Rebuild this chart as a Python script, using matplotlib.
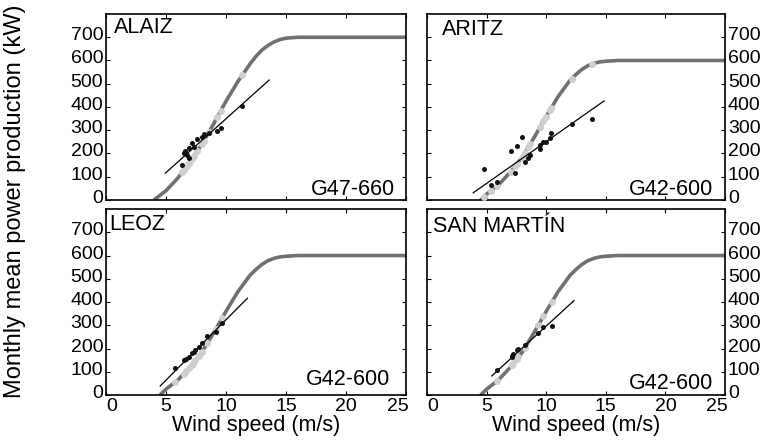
import matplotlib
matplotlib.use("Agg")
import matplotlib.pyplot as plt
import matplotlib.transforms as mtransforms

plt.rcParams['font.family'] = ['Liberation Sans', 'DejaVu Sans']

# ---- Manufacturer power curves (wind speed m/s -> kW) ----
g47_wind = [4, 5, 6, 7, 8, 9, 10, 11, 12, 12.5, 13, 13.5, 14, 14.5, 15, 16, 17, 25]
g47_power = [0, 40, 95, 165, 240, 330, 425, 510, 585, 618, 645, 665, 680, 690, 696, 700, 700, 700]

g42_wind = [4.5, 5, 6, 7, 8, 9, 10, 11, 12, 12.5, 13, 13.5, 14, 14.5, 15, 16, 17, 25]
g42_power = [0, 25, 65, 120, 185, 270, 360, 445, 515, 540, 562, 578, 588, 594, 597, 600, 600, 600]

# ---- Monthly observations per wind farm ----
alaiz_wind = [11.36, 9.55, 9.27, 8.57, 8.15, 8.0, 7.59, 7.17, 7.31, 6.9, 6.62, 6.48, 6.76, 6.9, 6.34]
alaiz_obs = [404, 308, 298, 289, 282, 272, 261, 244, 229, 222, 212, 201, 194, 179, 151]
alaiz_theo = [537, 382, 356, 291, 254, 240, 209, 178, 188, 158, 138, 129, 148, 158, 119]
alaiz_fit_x = [4.94, 13.6]
alaiz_fit_y = [115, 516]

aritz_wind = [4.78, 5.34, 5.85, 7.38, 7.02, 7.52, 7.94, 8.22, 8.5, 8.64, 9.48, 9.48,
              9.76, 9.98, 10.32, 10.4, 12.14, 13.82]
aritz_obs = [133, 65, 76, 118, 212, 234, 271, 165, 179, 194, 218, 237,
             248, 251, 265, 290, 326, 348]
aritz_theo = [14, 39, 59, 145, 121, 154, 181, 204, 228, 239, 313, 313,
              338, 358, 387, 394, 522, 584]
aritz_fit_x = [3.88, 14.85]
aritz_fit_y = [31, 426]

leoz_wind = [5.78, 6.48, 6.7, 6.9, 7.17, 7.3, 7.45, 7.73, 8.01, 8.43, 9.13, 9.7]
leoz_obs = [115, 151, 155, 165, 179, 185, 194, 208, 222, 254, 272, 308]
leoz_theo = [56, 91, 104, 115, 131, 140, 149, 167, 186, 222, 282, 333]
leoz_fit_x = [4.52, 11.78]
leoz_fit_y = [39, 416]

sanmartin_wind = [5.85, 7.1, 7.17, 7.24, 7.52, 7.66, 8.22, 9.34, 9.76, 10.5]
sanmartin_obs = [108, 165, 168, 176, 194, 200, 215, 265, 294, 298]
sanmartin_theo = [59, 127, 131, 136, 154, 163, 204, 301, 338, 402]
sanmartin_fit_x = [5.43, 12.33]
sanmartin_fit_y = [82, 406]

sites = ['ALAIZ', 'ARITZ', 'LEOZ', 'SAN MARTÍN']
models = ['G47-660', 'G42-600', 'G42-600', 'G42-600']
y_ticks = [0, 100, 200, 300, 400, 500, 600, 700]
x_ticks = [0, 5, 10, 15, 20, 25]

panels = [
    (g47_wind, g47_power, alaiz_wind, alaiz_obs, alaiz_theo, alaiz_fit_x, alaiz_fit_y),
    (g42_wind, g42_power, aritz_wind, aritz_obs, aritz_theo, aritz_fit_x, aritz_fit_y),
    (g42_wind, g42_power, leoz_wind, leoz_obs, leoz_theo, leoz_fit_x, leoz_fit_y),
    (g42_wind, g42_power, sanmartin_wind, sanmartin_obs, sanmartin_theo,
     sanmartin_fit_x, sanmartin_fit_y),
]

# axes boxes in figure fraction (left, bottom, width, height)
boxes = [
    (0.1387, 0.5516, 0.3927, 0.4170),
    (0.5589, 0.5516, 0.3901, 0.4170),
    (0.1387, 0.1143, 0.3927, 0.4170),
    (0.5589, 0.1143, 0.3901, 0.4170),
]
name_pos = [(0.025, 0.985), (0.05, 0.975), (0.01, 0.975), (0.02, 0.96)]
model_pos = [(0.963, 0.027), (0.96, 0.027), (0.947, 0.054), (0.96, 0.032)]

fig = plt.figure(figsize=(7.64, 4.46), dpi=100)
# y tick labels sit a few pixels above their ticks in the original
lift = mtransforms.ScaledTranslation(0, 0.035, fig.dpi_scale_trans)
nudge = mtransforms.ScaledTranslation(0.03, 0, fig.dpi_scale_trans)

for i, (box, data) in enumerate(zip(boxes, panels)):
    cw, cp, w, obs, theo, fx, fy = data
    ax = fig.add_axes(box)

    ax.plot(cw, cp, color='#707070', lw=2.6, solid_capstyle='butt', zorder=2)
    ax.plot(w, theo, 'o', ms=5, color='#cfcfcf', mec='none', zorder=3)
    ax.plot(fx, fy, color='black', lw=0.9, zorder=4)
    ax.plot(w, obs, 'o', ms=3.6, color='#111111', mec='none', zorder=5)

    ax.set_xlim(0, 25)
    ax.set_ylim(0, 800)
    ax.set_xticks(x_ticks)
    ax.set_yticks(y_ticks)

    right_col = i % 2 == 1
    bottom_row = i >= 2
    ax.tick_params(direction='in', length=3, width=0.8, top=True, right=True,
                   labelsize=14, pad=2,
                   labelleft=not right_col, labelright=right_col,
                   labelbottom=bottom_row)
    ax.tick_params(axis='x', pad=2.5)
    for s in ax.spines.values():
        s.set_linewidth(1.2)
        s.set_color('black')

    for t in ax.yaxis.get_major_ticks():
        t.label1.set_transform(t.label1.get_transform() + lift)
        t.label2.set_transform(t.label2.get_transform() + lift)

    ax.text(name_pos[i][0], name_pos[i][1], sites[i], transform=ax.transAxes,
            ha='left', va='top', fontsize=15.5)
    ax.text(model_pos[i][0], model_pos[i][1], models[i], transform=ax.transAxes,
            ha='right', va='baseline', fontsize=15.5)

    if bottom_row:
        ax.set_xlabel('Wind speed (m/s)', fontsize=15.5, labelpad=0)
        # end labels are pulled inwards, clear of the y "0" labels
        xl = ax.get_xticklabels()
        xl[0].set_horizontalalignment('left')
        xl[-1].set_horizontalalignment('right')
        xl[-1].set_transform(xl[-1].get_transform() + nudge)

fig.text(0.02, 0.549, 'Monthly mean power production (kW)', rotation=90,
         ha='center', va='center', fontsize=17)

fig.savefig('out.png', dpi=100)
